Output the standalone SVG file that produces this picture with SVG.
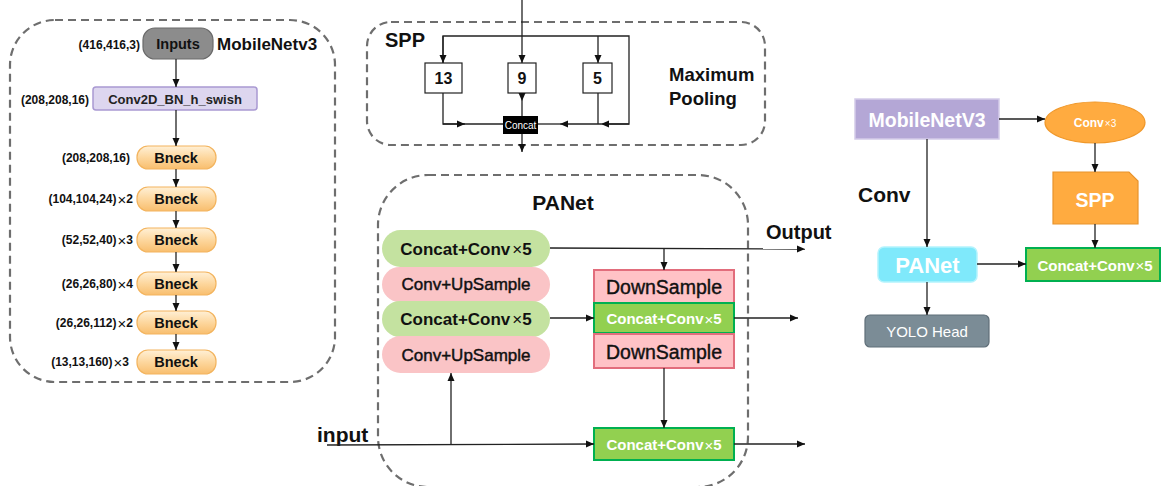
<svg xmlns="http://www.w3.org/2000/svg" width="1161" height="486" viewBox="0 0 1161 486">
  <defs>
    <marker id="arrow" markerUnits="userSpaceOnUse" markerWidth="9" markerHeight="8" refX="8" refY="4" orient="auto">
      <path d="M0,0.5 L8,4 L0,7.5 Z" fill="#111"/>
    </marker>
    <linearGradient id="bneckFill" x1="0" y1="0" x2="0" y2="1">
      <stop offset="0" stop-color="#fff0d6"/>
      <stop offset="0.5" stop-color="#fdd79e"/>
      <stop offset="1" stop-color="#f8be6e"/>
    </linearGradient>
    <style>
      text { font-family: "Liberation Sans", Arial, sans-serif; }
      .panel { fill: none; stroke: #6e6e6e; stroke-width: 2.2; stroke-dasharray: 8 5; }
      .b { font-weight: bold; }
      .mid { text-anchor: middle; dominant-baseline: central; }
      .dim { font-size: 12px; font-weight: bold; text-anchor: end; dominant-baseline: central; fill: #111; }
      .times { font-weight: normal; }
      .dim .times { font-size: 15px; }
      .bneck rect { fill: url(#bneckFill); stroke: #f3b45e; stroke-width: 1.2; }
      .bneck .lbl { font-size: 14.5px; font-weight: bold; fill: #111; }
      .pool rect { fill: #fff; stroke: #222; stroke-width: 1.2; }
      .pool text { font-size: 16px; font-weight: bold; fill: #111; }
      .pillG rect { fill: #c4e2a0; }
      .pillP rect { fill: #fac4c6; }
      .pill text { font-size: 17px; fill: #111; }
      .pillP text { stroke: #111; stroke-width: 0.45; }
      .down rect { fill: #ffc2c6; stroke: #e26d7c; stroke-width: 2; }
      .down text { font-size: 19.5px; fill: #111; stroke: #111; stroke-width: 0.4; }
      .cc rect { fill: #92d050; stroke: #00b050; stroke-width: 2; }
      .cc text { font-size: 15px; font-weight: bold; fill: #fff; }
      .wire { fill: none; stroke: #222; stroke-width: 1.3; }
      .wa { fill: none; stroke: #222; stroke-width: 1.3; marker-end: url(#arrow); }
    </style>
  </defs>

  <!-- panel outlines -->
  <rect class="panel" x="10" y="20" width="325" height="362" rx="45"/>
  <rect class="panel" x="367" y="22" width="398" height="123" rx="24"/>
  <rect class="panel" x="378" y="175" width="370" height="312" rx="50"/>

  <!-- MobileNetv3 backbone -->
  <g id="inputs">
    <rect x="143" y="28" width="70" height="31" rx="12" fill="#8c8c8c" stroke="#6a6a6a" stroke-width="1.2"/>
    <text class="mid b" x="178" y="44" font-size="14.5" fill="#111">Inputs</text>
    <text class="dim" x="140" y="45">(416,416,3)</text>
  </g>
  <text class="b" x="217" y="50" font-size="17" fill="#111">MobileNetv3</text>
  <g id="conv2d">
    <rect x="93" y="87" width="164" height="23" rx="3" fill="#ddd6ef" stroke="#a999d2" stroke-width="1.5"/>
    <text class="mid b" x="175" y="99" font-size="13" fill="#222">Conv2D_BN_h_swish</text>
    <text class="dim" x="89" y="100">(208,208,16)</text>
  </g>
  <g id="bneck1" class="bneck">
    <rect x="137" y="146" width="79" height="23" rx="11"/>
    <text class="mid lbl" x="176" y="158">Bneck</text>
    <text class="dim" x="130" y="158">(208,208,16)</text>
  </g>
  <g id="bneck2" class="bneck">
    <rect x="137" y="187" width="79" height="24" rx="11"/>
    <text class="mid lbl" x="176" y="199">Bneck</text>
    <text class="dim" x="133" y="199">(104,104,24)<tspan class="times" dx="1">×</tspan>2</text>
  </g>
  <g id="bneck3" class="bneck">
    <rect x="137" y="228" width="79" height="24" rx="11"/>
    <text class="mid lbl" x="176" y="240">Bneck</text>
    <text class="dim" x="133" y="240">(52,52,40)<tspan class="times" dx="1">×</tspan>3</text>
  </g>
  <g id="bneck4" class="bneck">
    <rect x="137" y="272" width="79" height="23" rx="11"/>
    <text class="mid lbl" x="176" y="284">Bneck</text>
    <text class="dim" x="133" y="284">(26,26,80)<tspan class="times" dx="1">×</tspan>4</text>
  </g>
  <g id="bneck5" class="bneck">
    <rect x="137" y="311" width="79" height="23" rx="11"/>
    <text class="mid lbl" x="176" y="323">Bneck</text>
    <text class="dim" x="133" y="323">(26,26,112)<tspan class="times" dx="1">×</tspan>2</text>
  </g>
  <g id="bneck6" class="bneck">
    <rect x="137" y="350" width="79" height="24" rx="11"/>
    <text class="mid lbl" x="176" y="362">Bneck</text>
    <text class="dim" x="129" y="362">(13,13,160)<tspan class="times" dx="1">×</tspan>3</text>
  </g>

  <!-- SPP block -->
  <text class="b" x="385" y="47" font-size="20" fill="#111">SPP</text>
  <text class="b" x="669" y="81" font-size="18.5" fill="#111">Maximum</text>
  <text class="b" x="669" y="105" font-size="18.5" fill="#111">Pooling</text>
  <g id="pool13" class="pool">
    <rect x="425" y="63" width="37" height="30"/>
    <text class="mid" x="443.5" y="78">13</text>
  </g>
  <g id="pool9" class="pool">
    <rect x="508" y="63" width="28" height="30"/>
    <text class="mid" x="522" y="78">9</text>
  </g>
  <g id="pool5" class="pool">
    <rect x="583" y="63" width="29" height="30"/>
    <text class="mid" x="597.5" y="78">5</text>
  </g>
  <g id="concat">
    <rect x="503" y="116" width="35" height="18" fill="#000"/>
    <text class="mid" x="520.5" y="125.5" font-size="10" fill="#fff">Concat</text>
  </g>

  <!-- PANet block -->
  <text class="mid b" x="563" y="202" font-size="21" fill="#111">PANet</text>
  <g id="pan-concat1" class="pill pillG">
    <rect x="382" y="230" width="168" height="37" rx="18.5"/>
    <text class="mid b" x="466" y="249">Concat+Conv<tspan class="times" dx="2">×</tspan>5</text>
  </g>
  <g id="pan-up1" class="pill pillP">
    <rect x="382" y="267" width="168" height="35" rx="17.5"/>
    <text class="mid" x="466" y="284.5">Conv+UpSample</text>
  </g>
  <g id="pan-concat2" class="pill pillG">
    <rect x="382" y="301" width="168" height="36" rx="18"/>
    <text class="mid b" x="466" y="319">Concat+Conv<tspan class="times" dx="2">×</tspan>5</text>
  </g>
  <g id="pan-up2" class="pill pillP">
    <rect x="382" y="336" width="168" height="37" rx="18.5"/>
    <text class="mid" x="466" y="355">Conv+UpSample</text>
  </g>
  <g id="pan-down1" class="down">
    <rect x="594" y="270" width="140" height="33"/>
    <text class="mid" x="664" y="287">DownSample</text>
  </g>
  <g id="pan-concat3" class="cc">
    <rect x="594" y="303" width="140" height="30"/>
    <text class="mid" x="664" y="318.5">Concat+Conv<tspan class="times" dx="1">×</tspan>5</text>
  </g>
  <g id="pan-down2" class="down">
    <rect x="594" y="334" width="140" height="34"/>
    <text class="mid" x="664" y="351.5">DownSample</text>
  </g>
  <g id="pan-concat4" class="cc">
    <rect x="594" y="428" width="140" height="32"/>
    <text class="mid" x="664" y="444.5">Concat+Conv<tspan class="times" dx="1">×</tspan>5</text>
  </g>
  <text class="b" x="766" y="239" font-size="20" fill="#111">Output</text>
  <text class="b" x="317" y="442" font-size="21" fill="#111">input</text>

  <!-- overall pipeline -->
  <g id="mobilenetv3">
    <rect x="855" y="99" width="144" height="40" fill="#b4a7d6" stroke="#d4cbe9" stroke-width="1.5"/>
    <text class="mid b" x="927" y="119.5" font-size="19.5" fill="#fff">MobileNetV3</text>
  </g>
  <g id="conv3">
    <ellipse cx="1095" cy="122.5" rx="50" ry="20.5" fill="#ffab40" stroke="#f0982a" stroke-width="1.2"/>
    <text class="mid b" x="1095" y="123" font-size="12" fill="#fff">Conv<tspan font-size="10" font-weight="normal" dx="1">×3</tspan></text>
  </g>
  <g id="spp">
    <path d="M1053,172 L1129,172 L1138,181 L1138,224 L1053,224 Z" fill="#ffab40" stroke="#e8932c" stroke-width="1.2"/>
    <text class="mid b" x="1095" y="200" font-size="19.5" fill="#fff">SPP</text>
  </g>
  <text class="b" x="858" y="202" font-size="21" fill="#111">Conv</text>
  <g id="panet">
    <rect x="878" y="247" width="99" height="35" rx="6" fill="#7fe9fb" stroke="#b4f3fd" stroke-width="1.5"/>
    <text class="mid b" x="927.5" y="265" font-size="22" fill="#fff">PANet</text>
  </g>
  <g id="concat-out" class="cc">
    <rect x="1026" y="248" width="134" height="33"/>
    <text class="mid" x="1095" y="265">Concat+Conv<tspan class="times" dx="1">×</tspan>5</text>
  </g>
  <g id="yolo-head">
    <rect x="865" y="315" width="124" height="32" rx="5" fill="#7b8c96" stroke="#5f6e78" stroke-width="1.2"/>
    <text class="mid" x="927" y="331.5" font-size="15" fill="#fff">YOLO Head</text>
  </g>

  <!-- connectors -->
  <g id="connectors">
    <!-- backbone chain -->
    <line class="wa" x1="176" y1="59" x2="176" y2="87"/>
    <line class="wa" x1="176" y1="110" x2="176" y2="146"/>
    <line class="wa" x1="176" y1="169" x2="176" y2="187"/>
    <line class="wa" x1="176" y1="211" x2="176" y2="228"/>
    <line class="wa" x1="176" y1="252" x2="176" y2="272"/>
    <line class="wa" x1="176" y1="295" x2="176" y2="311"/>
    <line class="wa" x1="176" y1="334" x2="176" y2="350"/>

    <!-- SPP wiring -->
    <line class="wa" x1="522" y1="0" x2="522" y2="63"/>
    <path class="wire" d="M443,63 L443,36 L629,36 L629,124 L603,124"/>
    <line class="wa" x1="443" y1="36" x2="443" y2="63"/>
    <line class="wa" x1="598" y1="36" x2="598" y2="63"/>
    <line class="wa" x1="629" y1="124" x2="601" y2="124"/>
    <line class="wa" x1="601" y1="124" x2="560" y2="124"/>
    <line class="wire" x1="560" y1="124" x2="538" y2="124"/>
    <line class="wire" x1="598" y1="93" x2="598" y2="124"/>
    <path class="wire" d="M443,93 L443,124 L465,124"/>
    <line class="wa" x1="443" y1="124" x2="465" y2="124"/>
    <line class="wire" x1="465" y1="124" x2="503" y2="124"/>
    <line class="wa" x1="522" y1="93" x2="522" y2="101"/>
    <line class="wire" x1="522" y1="101" x2="522" y2="116"/>
    <line class="wa" x1="522" y1="134" x2="522" y2="152"/>

    <!-- PANet wiring -->
    <line class="wa" x1="550" y1="248" x2="805" y2="249"/>
    <line class="wa" x1="664" y1="249" x2="664" y2="270"/>
    <line class="wa" x1="550" y1="318" x2="594" y2="318"/>
    <line class="wa" x1="734" y1="318" x2="798" y2="318"/>
    <line class="wa" x1="664" y1="368" x2="664" y2="428"/>
    <line class="wa" x1="734" y1="444" x2="805" y2="444"/>
    <line class="wa" x1="327" y1="445" x2="594" y2="444"/>
    <line class="wa" x1="451" y1="444" x2="451" y2="373"/>

    <!-- pipeline wiring -->
    <line class="wa" x1="999" y1="119" x2="1045" y2="119"/>
    <line class="wa" x1="1095" y1="143" x2="1095" y2="172"/>
    <line class="wa" x1="927" y1="139" x2="927" y2="247"/>
    <line class="wa" x1="1095" y1="224" x2="1095" y2="248"/>
    <line class="wa" x1="977" y1="264" x2="1026" y2="264"/>
    <line class="wa" x1="927" y1="282" x2="927" y2="315"/>
  </g>
</svg>
